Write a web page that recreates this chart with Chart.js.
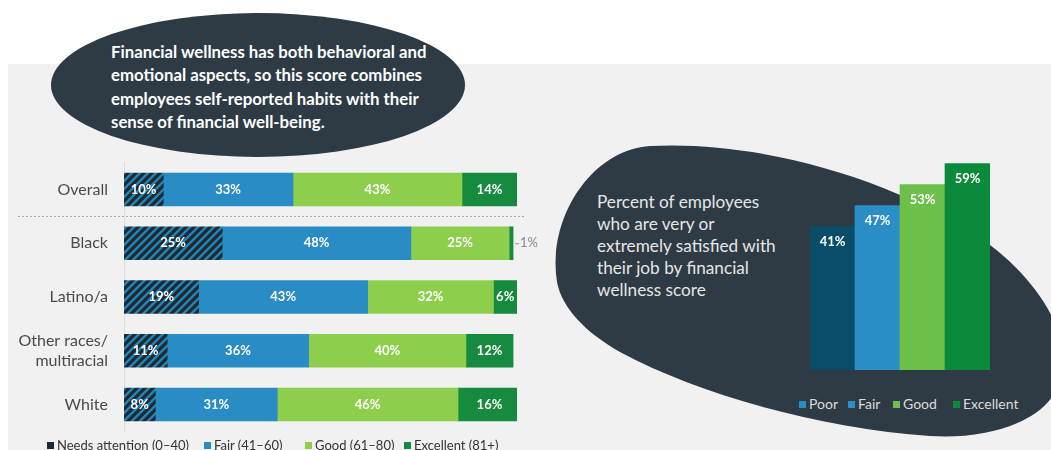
<!DOCTYPE html>
<html>
<head>
<meta charset="utf-8">
<script src="https://cdn.jsdelivr.net/npm/chart.js@4.4.0/dist/chart.umd.min.js"></script>
<style>
  body { margin: 0; width: 1051px; height: 450px; background: #fff; position: relative; overflow: hidden; font-family: Lato, sans-serif; }
  #panel { position: absolute; left: 8px; top: 64px; width: 1043px; height: 386px; background: #f1f1f1; }
  #shapes { position: absolute; left: 0; top: 0; }
  #callout { position: absolute; left: 111px; top: 40px; color: #fff; font-weight: bold; font-size: 16.8px; line-height: 23.3px; white-space: nowrap; }
  #note { position: absolute; left: 597px; top: 191px; color: #e6e6e6; font-size: 17.2px; line-height: 22px; white-space: nowrap; }
  #wrapLeft { position: absolute; left: 0; top: 137px; width: 545px; height: 320px; }
  #wrapRight { position: absolute; left: 800px; top: 150px; width: 200px; height: 220px; }
  .legend { position: absolute; white-space: nowrap; font-size: 13px; }
  .legend span { position: absolute; top: 0; }
  .legend i { display: inline-block; width: 7px; height: 7px; margin-right: 3px; vertical-align: 1px; }
  #legLeft { left: 0; top: 437px; color: #333; }
  #legRight { left: 0; top: 395px; color: #dcdcdc; font-size: 14px; }
</style>
</head>
<body>
<div id="panel"></div>
<svg id="shapes" width="1051" height="450">
  <ellipse cx="258" cy="85" rx="207" ry="72" fill="#2e3a44"/>
  <path d="M 557 282 C 547 220, 590 150, 650 146 C 760 140, 900 180, 990 245 C 1030 275, 1075 330, 1060 380 C 1050 420, 990 440, 930 436 C 820 428, 700 395, 620 352 C 585 332, 562 308, 557 282 Z" fill="#2e3a44"/>
</svg>
<div id="callout">Financial wellness has both behavioral and<br>emotional aspects, so this score combines<br>employees self-reported habits with their<br>sense of financial well-being.</div>
<div id="note">Percent of employees<br>who are very or<br>extremely satisfied with<br>their job by financial<br>wellness score</div>
<div id="wrapLeft"><canvas id="scoreChart"></canvas></div>
<div id="wrapRight"><canvas id="satisfactionChart"></canvas></div>
<div id="legLeft" class="legend"></div>
<div id="legRight" class="legend"></div>

<script>
// financial wellness score by group (percent of employees)
const groups = ['Overall', 'Black', 'Latino/a', ['Other races/', 'multiracial'], 'White'];
const needsAttention = [10, 25, 19, 11, 8];
const fair = [33, 48, 43, 36, 31];
const good = [43, 25, 32, 40, 46];
const excellent = [14, 1, 6, 12, 16];
const bandNames = ['Needs attention (0\u201340)', 'Fair (41\u201360)', 'Good (61\u201380)', 'Excellent (81+)'];

// job satisfaction by score level
const scoreLevels = ['Poor', 'Fair', 'Good', 'Excellent'];
const satisfied = [41, 47, 53, 59];

Chart.defaults.font.family = 'Lato, sans-serif';
Chart.defaults.animation = false;

//striped fill for the "needs attention" band
function hatch(ctx) {
    const c = document.createElement('canvas');
    c.width = 8; c.height = 8;
    const g = c.getContext('2d');
    g.fillStyle = '#1d2a35';
    g.fillRect(0, 0, 8, 8);
    g.strokeStyle = '#2585b2';
    g.lineWidth = 2.4;
    g.beginPath();
    g.moveTo(0, 8); g.lineTo(8, 0);
    g.moveTo(-2, 2); g.lineTo(2, -2);
    g.moveTo(6, 10); g.lineTo(10, 6);
    g.stroke();
    return ctx.createPattern(c, 'repeat');
}

const leftCtx = document.getElementById('scoreChart').getContext('2d');
const bandColors = [hatch(leftCtx), '#2a8cc4', '#8dcf4d', '#168a3e'];
const bandValues = [needsAttention, fair, good, excellent];

// value labels + the dotted line under "Overall"
const leftLabels = {
    id: 'leftLabels',
    afterDatasetsDraw(chart) {
        const ctx = chart.ctx;
        const yScale = chart.scales.y;
        ctx.save();
        // separator
        const sepY = Math.round((yScale.getPixelForValue(0) + yScale.getPixelForValue(1)) / 2) + 0.5;
        ctx.strokeStyle = '#a8a8a8';
        ctx.lineWidth = 1;
        ctx.setLineDash([2, 2]);
        ctx.beginPath();
        ctx.moveTo(18, sepY);
        ctx.lineTo(525, sepY);
        ctx.stroke();
        ctx.setLineDash([]);

        ctx.font = 'bold 13px Lato, sans-serif';
        ctx.textBaseline = 'middle';
        chart.data.datasets.forEach((ds, d) => {
            chart.getDatasetMeta(d).data.forEach((bar, i) => {
                const v = ds.data[i];
                const txt = v + '%';
                if (v < 3) {
                    ctx.strokeStyle = '#999';
                    ctx.beginPath();
                    ctx.moveTo(bar.x + 2, bar.y + 0.5);
                    ctx.lineTo(bar.x + 6, bar.y + 0.5);
                    ctx.stroke();
                    ctx.fillStyle = '#8a8a8a';
                    ctx.font = '13px Lato, sans-serif';
                    ctx.textAlign = 'left';
                    ctx.fillText(txt, bar.x + 7, bar.y);
                    ctx.font = 'bold 13px Lato, sans-serif';
                } else {
                    ctx.fillStyle = '#fff';
                    ctx.textAlign = 'center';
                    ctx.fillText(txt, (bar.x + bar.base) / 2, bar.y);
                }
            });
        });
        ctx.restore();
    }
};

new Chart(leftCtx, {
    type: 'bar',
    data: {
        labels: groups,
        datasets: bandNames.map((name, k) => ({
            label: name,
            data: bandValues[k],
            backgroundColor: bandColors[k],
            barThickness: 33,
            borderWidth: 0
        }))
    },
    options: {
        indexAxis: 'y',
        responsive: true,
        maintainAspectRatio: false,
        layout: { padding: { top: 0, bottom: 0, right: 28 } },
        plugins: { legend: { display: false }, tooltip: { enabled: false } },
        scales: {
            x: { stacked: true, min: 0, max: 100, display: false },
            y: {
                stacked: true,
                afterFit(scale) { scale.width = 124; },
                grid: { display: false, drawTicks: false },
                border: { display: true, color: '#dcdcdc' },
                ticks: { color: '#4a4a4a', font: { size: 16 }, padding: 16 }
            }
        }
    },
    plugins: [leftLabels]
});

const levelColors = ['#0a4d6b', '#2a8fc6', '#6cc04a', '#0b8a3b'];

const rightLabels = {
    id: 'rightLabels',
    afterDatasetsDraw(chart) {
        const ctx = chart.ctx;
        ctx.save();
        ctx.font = 'bold 13px Lato, sans-serif';
        ctx.fillStyle = '#fff';
        ctx.textAlign = 'center';
        ctx.textBaseline = 'middle';
        chart.getDatasetMeta(0).data.forEach((bar, i) => {
            ctx.fillText(satisfied[i] + '%', bar.x, bar.y + 15);
        });
        ctx.restore();
    }
};

new Chart(document.getElementById('satisfactionChart'), {
    type: 'bar',
    data: {
        labels: scoreLevels,
        datasets: [{
            data: satisfied,
            backgroundColor: levelColors,
            barPercentage: 1,
            categoryPercentage: 1,
            borderWidth: 0
        }]
    },
    options: {
        responsive: true,
        maintainAspectRatio: false,
        layout: { padding: { left: 10, right: 10, top: 10, bottom: 0 } },
        plugins: { legend: { display: false }, tooltip: { enabled: false } },
        scales: {
            x: { display: false },
            y: { display: false, min: 0, max: 60 }
        }
    },
    plugins: [rightLabels]
});

//legends as plain text
function buildLegend(el, names, colors, xs) {
    names.forEach((n, i) => {
        const s = document.createElement('span');
        s.style.left = xs[i] + 'px';
        const box = document.createElement('i');
        box.style.background = colors[i];
        s.append(box, document.createTextNode(n));
        el.append(s);
    });
}
buildLegend(document.getElementById('legLeft'), bandNames, ['#1d2a35', '#2a8cc4', '#8dcf4d', '#168a3e'], [47, 204, 305, 404]);
buildLegend(document.getElementById('legRight'), scoreLevels, ['#2a8fc6', '#2a8fc6', '#6cc04a', '#0b8a3b'], [799, 848, 893, 953]);
</script>
</body>
</html>
